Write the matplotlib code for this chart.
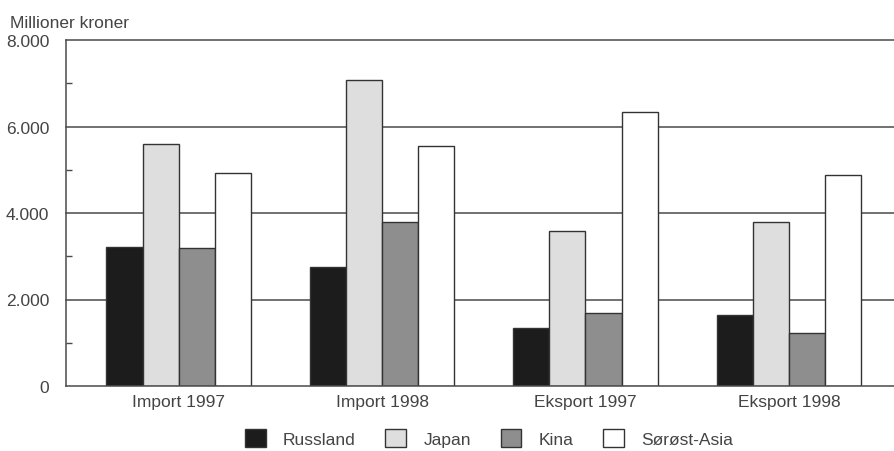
import matplotlib
matplotlib.use("Agg")
import matplotlib.pyplot as plt
from matplotlib import font_manager
from matplotlib.patches import Patch
import numpy as np

categories = ['Import 1997', 'Import 1998', 'Eksport 1997', 'Eksport 1998']
series_names = ['Russland', 'Japan', 'Kina', 'Sørøst-Asia']
russland = [3220, 2760, 1340, 1640]
japan = [5590, 7070, 3580, 3790]
kina = [3190, 3800, 1680, 1220]
sorost_asia = [4920, 5540, 6340, 4870]
yticks = [0, 2000, 4000, 6000, 8000]
ytick_labels = ['0', '2.000', '4.000', '6.000', '8.000']

names = {f.name for f in font_manager.fontManager.ttflist}
if 'Liberation Sans Narrow' in names:
    fam = ['Liberation Sans Narrow', 'DejaVu Sans']
    fs = 13
else:
    fam = ['Liberation Sans', 'DejaVu Sans']
    fs = 12.5
plt.rcParams['font.family'] = fam
txt_color = '#444444'

fig = plt.figure(figsize=(8.95, 4.52), dpi=100)
ax = fig.add_axes([66/895, 1-387/452, 1-66/895, (387-41)/452])

colors = ['#1c1c1c', '#dedede', '#8e8e8e', '#ffffff']
data = [russland, japan, kina, sorost_asia]
w = 0.177
x = np.arange(len(categories))
for i, (vals, c) in enumerate(zip(data, colors)):
    ax.bar(x + (i - 1.5) * w, vals, width=w, color=c, edgecolor='#333333',
           linewidth=1.0, zorder=3, label=series_names[i])

for v in yticks[1:]:
    ax.axhline(v, color='#4a4a4a', linewidth=1.1, zorder=1, clip_on=False)

ax.set_xlim(-0.553, 3.521)
ax.set_ylim(0, 8000)
ax.set_yticks(yticks)
ax.set_yticklabels(ytick_labels)
ax.set_yticks([1000, 3000, 5000, 7000], minor=True)
ax.tick_params(axis='y', which='major', length=0, pad=12, labelsize=fs, labelcolor=txt_color)
ax.tick_params(axis='y', which='minor', direction='in', length=4, color='#4a4a4a', width=1)
ax.set_xticks(x)
ax.set_xticklabels(categories)
ax.tick_params(axis='x', length=0, pad=6, labelsize=fs, labelcolor=txt_color)

for s in ['top', 'right']:
    ax.spines[s].set_visible(False)
for s in ['left', 'bottom']:
    ax.spines[s].set_color('#4a4a4a')
    ax.spines[s].set_linewidth(1.1)
    ax.spines[s].set_zorder(4)

fig.text(10/895, 1-28/452, 'Millioner kroner', fontsize=fs, color=txt_color, va='baseline', ha='left')

handles = [Patch(facecolor=c, edgecolor='#333333', linewidth=1.0) for c in colors]
leg = fig.legend(handles, series_names, loc='center', bbox_to_anchor=(489/895, 1-439/452),
                 ncol=4, frameon=False, fontsize=fs, handlelength=1.2, handleheight=1.2,
                 handletextpad=1.0, columnspacing=1.7, borderpad=0, borderaxespad=0)
for t in leg.get_texts():
    t.set_color(txt_color)

fig.savefig('out.png', dpi=100, facecolor='white')
